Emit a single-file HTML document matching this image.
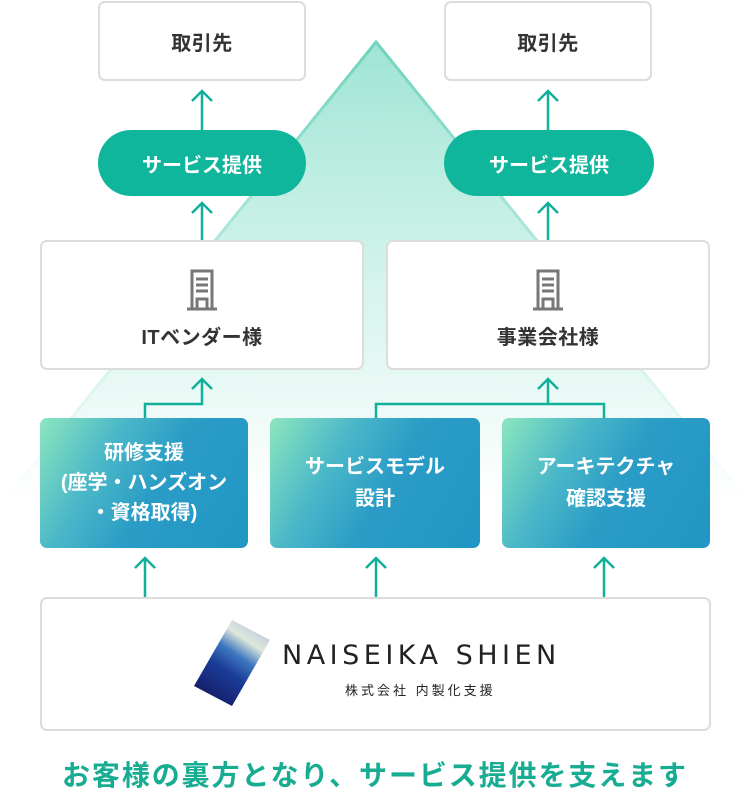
<!DOCTYPE html>
<html><head><meta charset="utf-8"><style>
body{margin:0;background:#fff;width:750px;height:794px;position:relative;overflow:hidden;font-family:"Liberation Sans","Noto Sans CJK JP",sans-serif;}
.a{position:absolute;box-sizing:border-box;display:flex;align-items:center;justify-content:center;text-align:center;font-weight:bold;}
.w{background:#fff;border:2px solid #dcdcdc;border-radius:7px;color:#333;font-size:20px;letter-spacing:0.5px;}
.p{background:#10b69c;border-radius:34px;color:#fff;font-size:20px;}
.g{border-radius:7px;color:#fff;font-size:20px;line-height:30px;background:linear-gradient(120deg,#8de6be 0%,#4bb8c8 30%,#2a9cc6 55%,#2196c4 100%);}
</style></head><body>
<svg width="750" height="794" style="position:absolute;left:0;top:0">
<defs><linearGradient id="t" x1="0" y1="0" x2="0" y2="1">
<stop offset="0" stop-color="#9fe5d4"/><stop offset="0.5" stop-color="#d2f3eb"/><stop offset="1" stop-color="#ffffff"/></linearGradient>
<linearGradient id="e" x1="0" y1="0" x2="0" y2="1"><stop offset="0" stop-color="#6fd3bd"/><stop offset="1" stop-color="#ffffff"/></linearGradient></defs>
<polygon points="376,42 5,500 747,500" fill="url(#t)"/>
<polyline points="5,500 376,42 747,500" fill="none" stroke="url(#e)" stroke-width="3"/>
<g stroke="#10b09a" stroke-width="2.5" fill="none">
<path d="M202 130V92M192 101L202 91L212 101"/>
<path d="M548 130V92M538 101L548 91L558 101"/>
<path d="M202 240V204M192 213L202 203L212 213"/>
<path d="M548 240V204M538 213L548 203L558 213"/>
<path d="M145 420V404H202V380M192 389L202 379L212 389"/>
<path d="M376 420V404H604V420M548 404V380M538 389L548 379L558 389"/>
<path d="M145 597V559M135 568L145 558L155 568"/>
<path d="M376 597V559M366 568L376 558L386 568"/>
<path d="M604 597V559M594 568L604 558L614 568"/>
</g></svg>
<div class="a w" style="left:98px;top:1px;width:208px;height:80px">取引先</div>
<div class="a w" style="left:444px;top:1px;width:208px;height:80px">取引先</div>
<div class="a p" style="left:98px;top:130px;width:208px;height:66px">サービス提供</div>
<div class="a p" style="left:444px;top:130px;width:210px;height:66px">サービス提供</div>
<div class="a w" style="left:40px;top:240px;width:324px;height:130px;flex-direction:column">
<svg width="32" height="42" viewBox="0 0 32 42" style="margin-top:8px"><g fill="none" stroke="#777" stroke-width="3"><path d="M6 40V2H26V40M1 40H31M11 40V30H21V40M10 10H22M10 16H22M10 22H22"/></g></svg><div style="margin-top:10px">ITベンダー様</div></div>
<div class="a w" style="left:386px;top:240px;width:324px;height:130px;flex-direction:column">
<svg width="32" height="42" viewBox="0 0 32 42" style="margin-top:8px"><g fill="none" stroke="#777" stroke-width="3"><path d="M6 40V2H26V40M1 40H31M11 40V30H21V40M10 10H22M10 16H22M10 22H22"/></g></svg><div style="margin-top:10px">事業会社様</div></div>
<div class="a g" style="left:40px;top:418px;width:208px;height:130px">研修支援<br>(座学・ハンズオン<br>・資格取得)</div>
<div class="a g" style="left:270px;top:418px;width:210px;height:130px;line-height:32px">サービスモデル<br>設計</div>
<div class="a g" style="left:502px;top:418px;width:208px;height:130px;line-height:32px">アーキテクチャ<br>確認支援</div>
<div class="a w" style="left:40px;top:597px;width:671px;height:134px"></div>
<svg width="80" height="90" style="position:absolute;left:192px;top:618px"><defs><linearGradient id="l" x1="0.2" y1="1" x2="0.8" y2="0"><stop offset="0" stop-color="#141860"/><stop offset="0.4" stop-color="#1a3c98"/><stop offset="0.6" stop-color="#3f78c0"/><stop offset="0.78" stop-color="#dfe8da"/><stop offset="1" stop-color="#b8c4e4"/></linearGradient></defs><polygon points="40,2 78,22 40,88 2,68" fill="url(#l)"/></svg>
<div style="position:absolute;left:282px;top:640px;font-size:27px;letter-spacing:4.5px;color:#222;font-family:'DejaVu Sans','Liberation Sans',sans-serif">NAISEIKA SHIEN</div>
<div style="position:absolute;left:345px;top:680px;font-size:13px;letter-spacing:3px;color:#222">株式会社 内製化支援</div>
<div style="position:absolute;left:0;width:750px;top:754px;text-align:center;font-size:28px;font-weight:bold;color:#18ad92;letter-spacing:1.9px">お客様の裏方となり、サービス提供を支えます</div>
</body></html>
